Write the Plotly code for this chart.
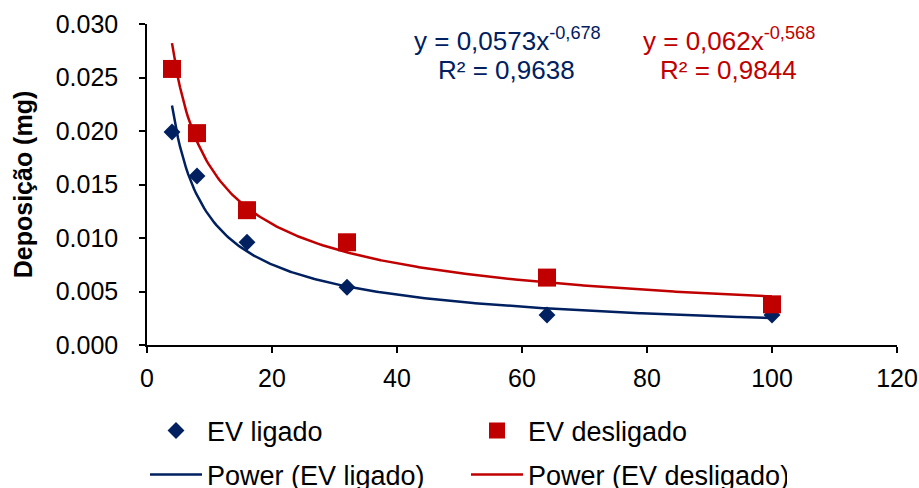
import numpy as np
import plotly.graph_objects as go

# Data
x_vals = [4, 8, 16, 32, 64, 100]
ev_ligado = [0.0199, 0.0158, 0.0096, 0.0054, 0.0028, 0.0028]
ev_desligado = [0.0258, 0.0198, 0.0126, 0.0096, 0.0063, 0.0038]

# Power trendline coefficients (as shown on chart): y = a * x^b
ligado_a, ligado_b = 0.0573, -0.678
desligado_a, desligado_b = 0.062, -0.568

x_ticks = [0, 20, 40, 60, 80, 100, 120]
y_ticks = [0.000, 0.005, 0.010, 0.015, 0.020, 0.025, 0.030]

BLUE = "#002060"
RED = "#C00000"
FONT = "Liberation Sans, Arial, sans-serif"

xf = np.linspace(min(x_vals), max(x_vals), 300)

fig = go.Figure()
fig.add_trace(go.Scatter(x=x_vals, y=ev_ligado, mode="markers", name="EV ligado",
                         marker=dict(symbol="diamond", size=13, color=BLUE),
                         legend="legend"))
fig.add_trace(go.Scatter(x=x_vals, y=ev_desligado, mode="markers", name="EV desligado",
                         marker=dict(symbol="square", size=18, color=RED),
                         legend="legend"))
fig.add_trace(go.Scatter(x=xf, y=ligado_a * xf ** ligado_b, mode="lines",
                         name="Power (EV ligado)", line=dict(color=BLUE, width=2.5),
                         legend="legend2"))
fig.add_trace(go.Scatter(x=xf, y=desligado_a * xf ** desligado_b, mode="lines",
                         name="Power (EV desligado)", line=dict(color=RED, width=2.5),
                         legend="legend2"))

eq_common = dict(xref="paper", yref="paper", showarrow=False,
                 xanchor="center", yanchor="middle")
fig.add_annotation(x=0.480, y=0.952, text="y = 0,0573x<sup>-0,678</sup>",
                   font=dict(family=FONT, size=26, color=BLUE), **eq_common)
fig.add_annotation(x=0.479, y=0.856, text="R² = 0,9638",
                   font=dict(family=FONT, size=26, color=BLUE), **eq_common)
fig.add_annotation(x=0.776, y=0.952, text="y = 0,062x<sup>-0,568</sup>",
                   font=dict(family=FONT, size=26, color=RED), **eq_common)
fig.add_annotation(x=0.775, y=0.856, text="R² = 0,9844",
                   font=dict(family=FONT, size=26, color=RED), **eq_common)

legend_common = dict(orientation="h", xref="container", yref="container",
                     xanchor="left", yanchor="middle", entrywidth=254,
                     entrywidthmode="pixels", bgcolor="rgba(0,0,0,0)",
                     itemwidth=52,
                     font=dict(family=FONT, size=27, color="black"))

fig.update_layout(
    width=919, height=488,
    margin=dict(l=147, r=22, t=24, b=143, autoexpand=False),
    plot_bgcolor="white", paper_bgcolor="white",
    font=dict(family=FONT, size=25, color="black"),
    showlegend=True,
    legend=dict(x=145 / 919, y=1 - 431 / 488, **legend_common),
    legend2=dict(x=145 / 919, y=1 - 475 / 488, **legend_common),
    xaxis=dict(range=[0, 120], tickvals=x_ticks, showgrid=False, zeroline=False,
               showline=True, linecolor="black", linewidth=1.5,
               ticks="outside", ticklen=6, tickcolor="black", tickwidth=1.5,
               ticklabelstandoff=4,
               tickfont=dict(family=FONT, size=25, color="black")),
    yaxis=dict(range=[0, 0.030], tickvals=y_ticks, tickformat=".3f",
               showgrid=False, zeroline=False,
               showline=True, linecolor="black", linewidth=1.5,
               ticks="outside", ticklen=6, tickcolor="black", tickwidth=1.5,
               ticklabelstandoff=16,
               tickfont=dict(family=FONT, size=25, color="black"),
               title=dict(text="<b>Deposição (mg)</b>", standoff=16,
                          font=dict(family=FONT, size=25, color="black"))),
)

fig.write_html("out.html", config={"displayModeBar": False},
               post_script="document.body.style.margin='0';document.body.style.padding='0';")
